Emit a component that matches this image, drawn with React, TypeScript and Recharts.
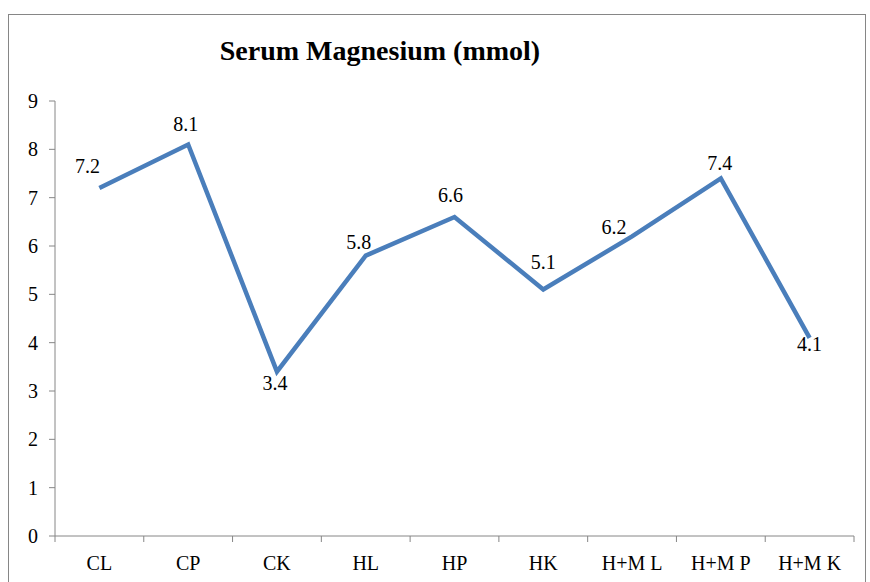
import { LineChart, Line, XAxis, YAxis, LabelList } from 'recharts'

const groups = ['CL', 'CP', 'CK', 'HL', 'HP', 'HK', 'H+M L', 'H+M P', 'H+M K']
const magnesium = [7.2, 8.1, 3.4, 5.8, 6.6, 5.1, 6.2, 7.4, 4.1]
const yTicks = [0, 1, 2, 3, 4, 5, 6, 7, 8, 9]

// label nudges (px) so labels sit like the original
const labelDx = [-12, -2.5, -2, -7, -4, 0, -18, -1, 0]
const labelDy = [-22, -21, 11, -14, -22, -28, -9, -15, 6]

const data = groups.map((g, i) => ({ group: g, value: magnesium[i] }))

const W = 870
const H = 582
const M = { top: 101, right: 16, bottom: 16, left: 15 }
const Y_W = 40
const X_H = 30
const plotW = W - M.left - M.right - Y_W
const band = plotW / groups.length
const font = 'Liberation Serif, Times New Roman, serif'
const axisGray = '#868686'
const FS = 20

function XTick(props: any) {
  const { x, y, payload, index } = props
  const left = x - band / 2
  return (
    <g>
      <line x1={left} y1={y - 8} x2={left} y2={y - 2} stroke={axisGray} />
      {index === groups.length - 1 && (
        <line x1={x + band / 2} y1={y - 8} x2={x + band / 2} y2={y - 2} stroke={axisGray} />
      )}
      <text x={x} y={y + 26} textAnchor="middle" style={{ fontSize: FS, fontFamily: font }} fill="#000">
        {payload.value}
      </text>
    </g>
  )
}

function PointLabel(props: any) {
  const { x, y, value, index } = props
  return (
    <text
      x={x + labelDx[index]}
      y={y + labelDy[index] + 7}
      textAnchor="middle"
      style={{ fontSize: FS, fontFamily: font }}
      fill="#000"
    >
      {value}
    </text>
  )
}

export default function App() {
  return (
    <div style={{ position: 'absolute', left: 0, top: 0, width: W, height: H, background: '#fff', overflow: 'hidden' }}>
      <div
        style={{
          position: 'absolute',
          left: 8,
          top: 14,
          width: 858,
          height: 600,
          border: `1px solid ${axisGray}`,
          boxSizing: 'border-box',
        }}
      />
      <div
        style={{
          position: 'absolute',
          left: 0,
          width: 760,
          top: 35,
          textAlign: 'center',
          fontFamily: font,
          fontWeight: 'bold',
          fontSize: 28,
          color: '#000',
        }}
      >
        Serum Magnesium (mmol)
      </div>
      <div style={{ position: 'absolute', left: 0, top: 0 }}>
        <LineChart width={W} height={H} data={data} margin={M}>
          <XAxis
            dataKey="group"
            height={X_H}
            stroke={axisGray}
            tickLine={false}
            tick={<XTick />}
            interval={0}
            padding={{ left: band / 2, right: band / 2 }}
          />
          <YAxis
            width={Y_W}
            domain={[0, 9]}
            ticks={yTicks}
            stroke={axisGray}
            tickSize={6}
            tickMargin={11}
            tick={{ fill: '#000', fontSize: FS, fontFamily: font }}
            interval={0}
          />
          <Line
            type="linear"
            dataKey="value"
            stroke="#4A7EBB"
            strokeWidth={4.5}
            dot={false}
            isAnimationActive={false}
          >
            <LabelList dataKey="value" content={<PointLabel />} />
          </Line>
        </LineChart>
      </div>
    </div>
  )
}
